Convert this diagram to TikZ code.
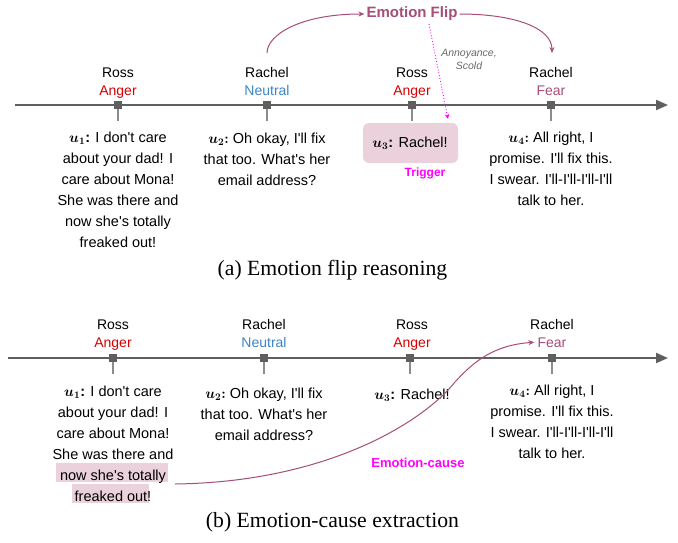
\documentclass[tikz,border=0pt]{standalone}
\usepackage{fontspec}
\setmainfont{Liberation Serif}
\setsansfont{Liberation Sans}[Ligatures=TeXOff]
\usepackage{amsmath,bm}
\usetikzlibrary{arrows.meta}
\definecolor{tl}{RGB}{95,95,95}
\definecolor{stem}{RGB}{140,140,140}
\definecolor{anger}{RGB}{215,0,0}
\definecolor{neutral}{RGB}{61,133,198}
\definecolor{flip}{RGB}{166,77,121}
\definecolor{mag}{RGB}{255,0,255}
\definecolor{hl}{RGB}{234,209,220}
\definecolor{note}{RGB}{105,105,105}
\tikzset{
  txt/.style={font=\sffamily\fontsize{14.5}{21}\selectfont, align=center, inner sep=0pt},
  lab/.style={font=\sffamily\fontsize{14}{17}\selectfont, inner sep=0pt, anchor=base},
  tickbox/.style={fill=tl, minimum size=8pt, inner sep=0pt},
  stemline/.style={draw=stem, line width=1.3pt},
  timeline/.style={draw=tl, line width=2pt, -{Triangle[length=12pt,width=10pt]}},
  flipline/.style={draw=flip, line width=1pt, -{Stealth[length=6pt,width=5pt]}},
  hlbox/.style={fill=hl, inner sep=0pt, draw=none},
  capt/.style={font=\rmfamily\fontsize{21.7}{26}\selectfont, inner sep=0pt},
}
\begin{document}
\begin{tikzpicture}[x=1pt,y=-1pt]
\useasboundingbox (0,0) rectangle (678,542);
\fill[white] (0,0) rectangle (678,542);

% ================= (a) =================
\coordinate (tas) at (15,105);
\coordinate (tae) at (668,105);
\draw[timeline] (tas) -- (tae);

\foreach \i/\x in {1/118,2/267,3/412,4/551}{
  \coordinate (as\i) at (\x,121);
  \node[tickbox] (at\i) at (\x,105) {};
  \draw[stemline] (at\i.south) -- (as\i);
}

\node[lab] (an1) at (118,77) {Ross};
\node[lab,text=anger] (ae1) at (118,95) {Anger};
\node[lab] (an2) at (267,77) {Rachel};
\node[lab,text=neutral] (ae2) at (267,95) {Neutral};
\node[lab] (an3) at (412,77) {Ross};
\node[lab,text=anger] (ae3) at (412,95) {Anger};
\node[lab] (an4) at (551,77) {Rachel};
\node[lab,text=flip] (ae4) at (551,95) {Fear};

\node[txt,anchor=north] (au1) at (118,132) {$\bm{u_{1}}$\textbf{:} I don't care\\about your dad! I\\care about Mona!\\She was there and\\now she's totally\\freaked out!};
\node[txt,anchor=north] (au2) at (267,132.5) {$\bm{u_{2}{:}}$ Oh okay, I'll fix\\that too. What's her\\email address?};
\node[fill=hl, rounded corners=6pt, minimum width=95pt, minimum height=40pt, inner sep=0pt] (au3box) at (410.5,143) {};
\node[txt] (au3) at (410,143) {$\bm{u_{3}}$\textbf{:} Rachel!};
\node[font=\sffamily\bfseries\fontsize{12}{14}\selectfont, text=mag, inner sep=0pt] (trig) at (425,173) {Trigger};
\node[txt,anchor=north] (au4) at (551,132) {$\bm{u_{4}{:}}$ All right, I\\promise. I'll fix this.\\I swear. I'll-I'll-I'll-I'll\\talk to her.};

\node[font=\sffamily\bfseries\fontsize{15}{18}\selectfont, text=flip, inner sep=2pt] (ef) at (412,14) {Emotion Flip};
\coordinate (fa) at (267,53);
\coordinate (fb) at (552,53);
\draw[draw=flip, line width=1pt, -{Stealth[length=6pt,width=5pt]}] (fa) .. controls (267,35) and (300,14) .. (ef.west);
\draw[flipline] (ef.east) .. controls (515,14) and (552,28) .. (fb);

\node[font=\sffamily\itshape\fontsize{10.5}{13}\selectfont, text=note, align=center, inner sep=0pt] (ann) at (469,59.5) {Annoyance,\\Scold};
\coordinate (dots) at (429,24);
\coordinate (dote) at (448,119);
\draw[draw=mag, line width=0.9pt, dotted, -{Stealth[length=5pt,width=4.5pt]}] (dots) -- (dote);

\node[capt] (capa) at (332.5,270) {(a) Emotion flip reasoning};

% ================= (b) =================
\coordinate (tbs) at (8,358);
\coordinate (tbe) at (668,358);
\draw[timeline] (tbs) -- (tbe);

\foreach \i/\x in {1/113,2/264,3/410,4/552}{
  \coordinate (bs\i) at (\x,374);
  \node[tickbox] (bt\i) at (\x,358) {};
  \draw[stemline] (bt\i.south) -- (bs\i);
}

\node[lab] (bn1) at (113,329) {Ross};
\node[lab,text=anger] (be1) at (113,347) {Anger};
\node[lab] (bn2) at (264,329) {Rachel};
\node[lab,text=neutral] (be2) at (264,347) {Neutral};
\node[lab] (bn3) at (412,329) {Ross};
\node[lab,text=anger] (be3) at (412,347) {Anger};
\node[lab] (bn4) at (552,329) {Rachel};
\node[lab,text=flip] (be4) at (552,347) {Fear};

\node[hlbox, minimum width=112pt, minimum height=19.5pt] (h1) at (112,472.5) {};
\node[hlbox, minimum width=77pt, minimum height=19.5pt] (h2) at (110.5,493.5) {};

\node[txt,anchor=north] (bu1) at (113,386) {$\bm{u_{1}}$\textbf{:} I don't care\\about your dad! I\\care about Mona!\\She was there and\\now she's totally\\freaked out!};
\node[txt,anchor=north] (bu2) at (264,388) {$\bm{u_{2}{:}}$ Oh okay, I'll fix\\that too. What's her\\email address?};
\node[txt] (bu3) at (412,395) {$\bm{u_{3}}$\textbf{:} Rachel!};
\node[txt,anchor=north] (bu4) at (552,385) {$\bm{u_{4}{:}}$ All right, I\\promise. I'll fix this.\\I swear. I'll-I'll-I'll-I'll\\talk to her.};

\coordinate (ecs) at (175,484);
\draw[flipline] (ecs) .. controls (330,482) and (425,420) .. (455,382) .. controls (475,360) and (495,345) .. ([xshift=-3pt]be4.west);
\node[font=\sffamily\bfseries\fontsize{13}{15}\selectfont, text=mag, inner sep=0pt] (ec) at (418,463) {Emotion-cause};

\node[capt] (capb) at (332.5,522) {(b) Emotion-cause extraction};
\end{tikzpicture}
\end{document}
